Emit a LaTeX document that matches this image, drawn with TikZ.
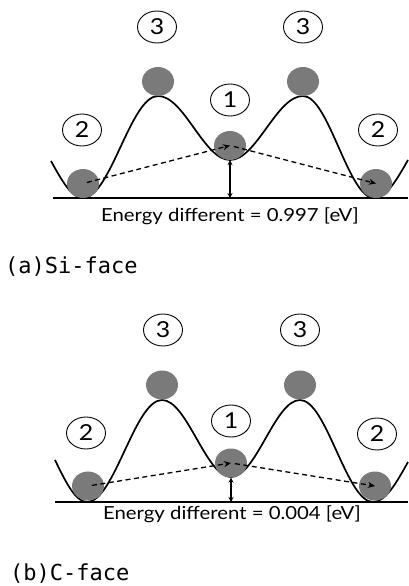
\documentclass[tikz,border=0pt]{standalone}
\usepackage{fontspec}
\setmainfont{Lato}
\newfontfamily\lblfont[FakeStretch=1.13]{Lato}
\newfontfamily\capfont{DejaVu Sans Mono}
\usetikzlibrary{arrows.meta,shapes.geometric}
\begin{document}
\begin{tikzpicture}[x=1pt, y=-1pt,
  ball/.style={ellipse, fill=black!52, minimum width=32pt, minimum height=29pt, inner sep=0pt},
  tag/.style={ellipse, draw, line width=0.9pt, minimum width=39pt, minimum height=32pt,
              inner sep=0pt, font=\lblfont\fontsize{22}{22}\selectfont},
  well/.style={line width=1.7pt},
  floor/.style={line width=1.5pt},
  hop/.style={line width=1.3pt, dash pattern=on 5pt off 3.5pt,
              -{Stealth[length=7pt,width=6pt]}, shorten <=4pt},
  gap/.style={line width=1.1pt, {Stealth[length=5pt,width=5pt]}-{Stealth[length=5pt,width=5pt]}},
  en/.style={font=\lblfont\fontsize{18}{18}\selectfont},
  panel/.style={font=\capfont\fontsize{22}{22}\selectfont, anchor=west, inner sep=0pt},
]
\useasboundingbox (0,0) rectangle (408,586);

% (a) Si-face
\draw[floor] (53,198) -- (408,198);
\coordinate (abase) at (230,198);
\draw[well] (51,161) sin (83,198) cos (120.5,147) sin (158,96) cos (194,128)
  sin (230,160) cos (266.5,128) sin (303,96) cos (338.5,147) sin (374,198) cos (408,160);

\node[ball] (al)  at (83,183.5) {};
\node[ball] (atl) at (158,81.5) {};
\node[ball] (ac)  at (230,145.5) {};
\node[ball] (atr) at (303,81.5) {};
\node[ball] (ar)  at (376,183.5) {};

\node[tag] (a3l) at (157,27) {3};
\node[tag] (a3r) at (303,27) {3};
\node[tag] (a1)  at (230,100) {1};
\node[tag] (a2l) at (82,130) {2};
\node[tag] (a2r) at (378,130) {2};

\draw[hop] (al.center) -- (ac.center);
\draw[hop] (ac.center) -- (ar.center);
\draw[gap] (ac.south) -- (abase);

\node[en] (aen) at (230,216) {Energy different = 0.997 [eV]};
\node[panel] (acap) at (5,267) {(a)Si-face};

% (b) C-face
\draw[floor] (55,502) -- (408,502);
\coordinate (bbase) at (231,502);
\draw[well] (55,460) sin (87,502) cos (124.5,451) sin (162,400) cos (196.5,438.5)
  sin (231,477) cos (265.5,438.5) sin (300,400) cos (336.5,451) sin (373,502) cos (408,462);

\node[ball] (bl)  at (88,486) {};
\node[ball] (btl) at (162,385) {};
\node[ball] (bc)  at (231,463) {};
\node[ball] (btr) at (300,385) {};
\node[ball] (br)  at (375,486) {};

\node[tag] (b3l) at (163,330) {3};
\node[tag] (b3r) at (300,330) {3};
\node[tag] (b1)  at (231,421) {1};
\node[tag] (b2l) at (86,433) {2};
\node[tag] (b2r) at (377,434) {2};

\draw[hop] (bl.center) -- (bc.center);
\draw[hop] (bc.center) -- (br.center);
\draw[gap] (bc.south) -- (bbase);

\node[en] (ben) at (232,514) {Energy different = 0.004 [eV]};
\node[panel] (bcap) at (10,574) {(b)C-face};
\end{tikzpicture}
\end{document}
